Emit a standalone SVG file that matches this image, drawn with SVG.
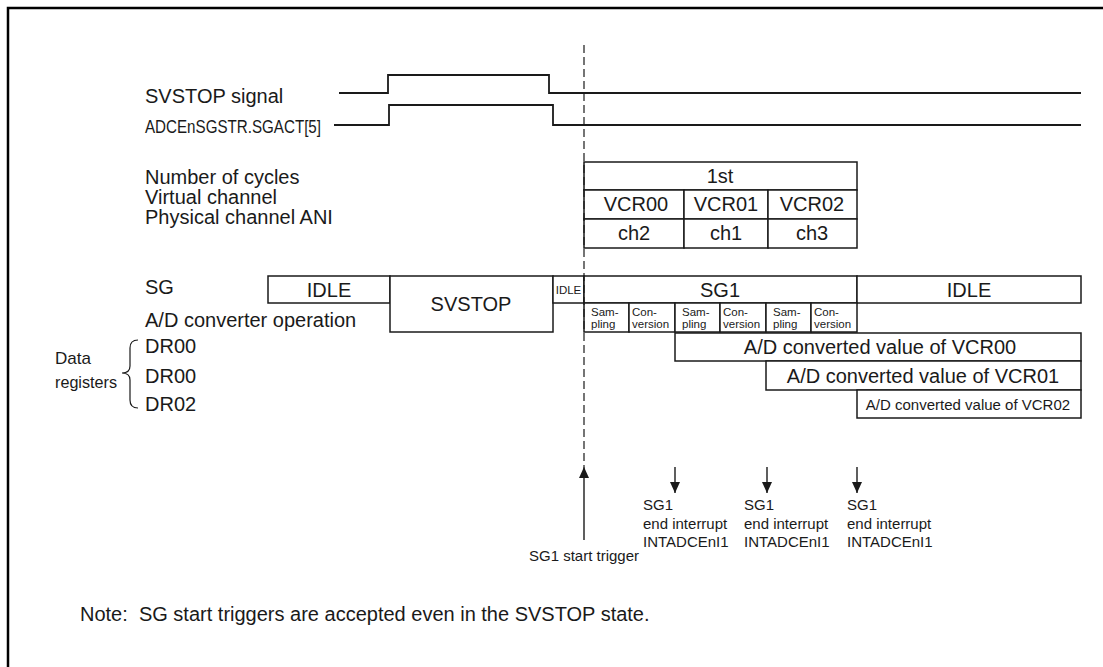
<svg xmlns="http://www.w3.org/2000/svg" width="1103" height="667" viewBox="0 0 1103 667">
<defs>
<style>
text{font-family:"Liberation Sans",Arial,sans-serif;fill:#1a1a1a}
.lbl{font-size:20px}
.box{fill:#fff;stroke:#1a1a1a;stroke-width:1.5}
.sig{fill:none;stroke:#1a1a1a;stroke-width:1.8}
.c{text-anchor:middle}
.s11{font-size:11.5px}
.s15{font-size:15px}
</style>
<marker id="ah" markerWidth="12" markerHeight="10" refX="0" refY="0" orient="auto" markerUnits="userSpaceOnUse" viewBox="-11 -5 11 10">
<path d="M0,0 L-11,-5 L-11,5 Z" fill="#1a1a1a"/>
</marker>
</defs>
<rect width="1103" height="667" fill="#fff"/>
<path d="M8,680 V8 H1110" fill="none" stroke="#000" stroke-width="2.5"/>

<g id="labels">
<text class="lbl" x="145" y="103">SVSTOP signal</text>
<text x="145" y="133" font-size="18" textLength="176" lengthAdjust="spacingAndGlyphs">ADCEnSGSTR.SGACT[5]</text>
<text class="lbl" x="145" y="184">Number of cycles</text>
<text class="lbl" x="145" y="204">Virtual channel</text>
<text class="lbl" x="145" y="224">Physical channel ANI</text>
<text class="lbl" x="145" y="294">SG</text>
<text class="lbl" x="145" y="327">A/D converter operation</text>
<text class="lbl" x="145" y="353">DR00</text>
<text class="lbl" x="145" y="383">DR00</text>
<text class="lbl" x="145" y="411">DR02</text>
<text x="55" y="364" font-size="17" textLength="36" lengthAdjust="spacingAndGlyphs">Data</text>
<text x="55" y="388" font-size="17" textLength="62" lengthAdjust="spacingAndGlyphs">registers</text>
<path d="M138,340 Q130,340 130,348 V366 Q130,373 122,373 Q130,373 130,380 V400 Q130,408 138,408" fill="none" stroke="#1a1a1a" stroke-width="1.2"/>
</g>

<g id="signals">
<path class="sig" d="M339,93 H388 V75 H549 V93 H1081"/>
<path class="sig" d="M334,125 H389 V105 H553 V125 H1081"/>
</g>

<g id="channel-table">
<rect class="box" x="584" y="162" width="273" height="28"/>
<rect class="box" x="584" y="190" width="100" height="29"/>
<rect class="box" x="684" y="190" width="84" height="29"/>
<rect class="box" x="768" y="190" width="89" height="29"/>
<rect class="box" x="584" y="219" width="100" height="29"/>
<rect class="box" x="684" y="219" width="84" height="29"/>
<rect class="box" x="768" y="219" width="89" height="29"/>
<text class="lbl c" x="720" y="183">1st</text>
<text class="lbl c" x="636" y="211">VCR00</text>
<text class="lbl c" x="726" y="211">VCR01</text>
<text class="lbl c" x="812" y="211">VCR02</text>
<text class="lbl c" x="634" y="240">ch2</text>
<text class="lbl c" x="726" y="240">ch1</text>
<text class="lbl c" x="812" y="240">ch3</text>
</g>

<g id="sg-state">
<rect class="box" x="268" y="276" width="122" height="27"/>
<text class="lbl c" x="329" y="297">IDLE</text>
<rect class="box" x="390" y="276" width="163" height="56"/>
<text class="lbl c" x="471" y="311">SVSTOP</text>
<rect class="box" x="553" y="276" width="31" height="27"/>
<text class="c" x="568.5" y="294" font-size="11.5">IDLE</text>
<rect class="box" x="584" y="276" width="273" height="27"/>
<text class="lbl c" x="720" y="297">SG1</text>
<rect class="box" x="857" y="276" width="224" height="27"/>
<text class="lbl c" x="969" y="297">IDLE</text>
</g>

<g id="ad-operation">
<rect class="box" x="584" y="303" width="45" height="29"/>
<rect class="box" x="629" y="303" width="46" height="29"/>
<rect class="box" x="675" y="303" width="45" height="29"/>
<rect class="box" x="720" y="303" width="46" height="29"/>
<rect class="box" x="766" y="303" width="45" height="29"/>
<rect class="box" x="811" y="303" width="46" height="29"/>
<text class="s11" x="591" y="316">Sam-</text><text class="s11" x="591" y="328">pling</text>
<text class="s11" x="632" y="316">Con-</text><text class="s11" x="632" y="328">version</text>
<text class="s11" x="682" y="316">Sam-</text><text class="s11" x="682" y="328">pling</text>
<text class="s11" x="723" y="316">Con-</text><text class="s11" x="723" y="328">version</text>
<text class="s11" x="773" y="316">Sam-</text><text class="s11" x="773" y="328">pling</text>
<text class="s11" x="814" y="316">Con-</text><text class="s11" x="814" y="328">version</text>
</g>

<g id="data-registers">
<rect class="box" x="675" y="333" width="406" height="28"/>
<text class="lbl c" x="880" y="354">A/D converted value of VCR00</text>
<rect class="box" x="766" y="361" width="315" height="29"/>
<text class="lbl c" x="923" y="383">A/D converted value of VCR01</text>
<rect class="box" x="857" y="390" width="224" height="28"/>
<text class="c s15" x="968" y="410">A/D converted value of VCR02</text>
</g>

<g id="connectors">
<line x1="584" y1="45" x2="584" y2="467" stroke="#1a1a1a" stroke-width="1.2" stroke-dasharray="8,4"/>
<line x1="584" y1="540" x2="584" y2="467" stroke="#1a1a1a" stroke-width="1.4" marker-end="url(#ah)"/>
<line x1="675" y1="467" x2="675" y2="493" stroke="#1a1a1a" stroke-width="1.4" marker-end="url(#ah)"/>
<line x1="767" y1="467" x2="767" y2="493" stroke="#1a1a1a" stroke-width="1.4" marker-end="url(#ah)"/>
<line x1="857" y1="467" x2="857" y2="493" stroke="#1a1a1a" stroke-width="1.4" marker-end="url(#ah)"/>
</g>

<g id="annotations">
<text class="s15" x="529" y="561">SG1 start trigger</text>
<text class="s15" x="643" y="510">SG1</text><text class="s15" x="643" y="529">end interrupt</text><text class="s15" x="643" y="547">INTADCEnI1</text>
<text class="s15" x="744" y="510">SG1</text><text class="s15" x="744" y="529">end interrupt</text><text class="s15" x="744" y="547">INTADCEnI1</text>
<text class="s15" x="847" y="510">SG1</text><text class="s15" x="847" y="529">end interrupt</text><text class="s15" x="847" y="547">INTADCEnI1</text>
<text x="80" y="621" font-size="20" xml:space="preserve">Note:  SG start triggers are accepted even in the SVSTOP state.</text>
</g>
</svg>
